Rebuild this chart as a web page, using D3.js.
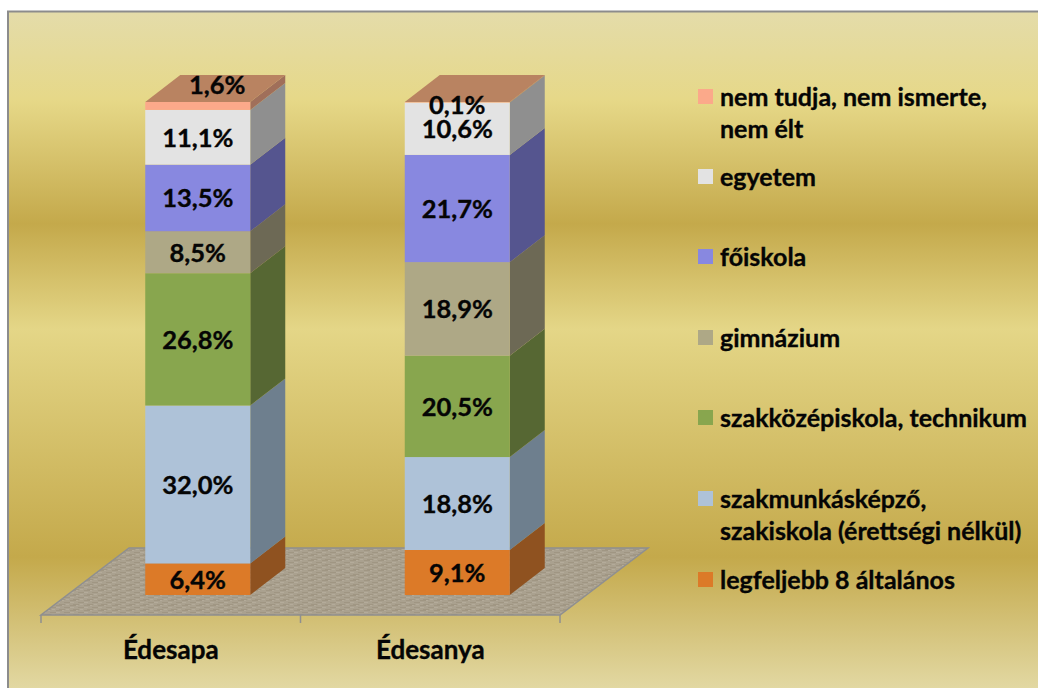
<!DOCTYPE html>
<html><head><meta charset="utf-8">
<script src="https://cdn.jsdelivr.net/npm/d3@7"></script>
<style>html,body{margin:0;padding:0;background:#fff}svg{display:block}text{font-family:Lato,Carlito,sans-serif;font-weight:700;fill:#050505;stroke:#050505;stroke-width:.35px}</style>
</head><body><svg id="c" width="1038" height="688"></svg>
<script>
const categories = ["Édesapa","Édesanya"];
const seriesNames = ["legfeljebb 8 általános","szakmunkásképző, szakiskola (érettségi nélkül)","szakközépiskola, technikum","gimnázium","főiskola","egyetem","nem tudja, nem ismerte, nem élt"];
const edesapa = [6.4,32.0,26.8,8.5,13.5,11.1,1.6];
const edesanya = [9.1,18.8,20.5,18.9,21.7,10.6,0.1];
const frontColors = ["#dc7a28","#aec2d8","#88a64e","#aea886","#8888e0","#e3e3e3","#fba98a"];
const sideColors = ["#8f5220","#6e7f8e","#566733","#6d6955","#55558f","#8f8f8f","#a06f5a"];
const legendLines = [["nem tudja, nem ismerte,","nem élt"],["egyetem"],["főiskola"],["gimnázium"],["szakközépiskola, technikum"],["szakmunkásképző,","szakiskola (érettségi nélkül)"],["legfeljebb 8 általános"]];
const legendY = [97,177,257,338,418,499,580];
const legendColors = ["#fba98a","#e3e3e3","#8888e0","#aea886","#88a64e","#aec2d8","#dc7a28"];
const gradientStops = [[11,"#e4dcaa"],[100,"#e6d888"],[224,"#c4a94b"],[329,"#e4d687"],[557,"#c4a94b"],[688,"#e2d8a2"]];

const svg = d3.select("#c");
const defs = svg.append("defs");
const g = defs.append("linearGradient").attr("id","bg").attr("gradientUnits","userSpaceOnUse").attr("x1",0).attr("x2",0).attr("y1",0).attr("y2",688);
gradientStops.forEach(d=>g.append("stop").attr("offset",d[0]/688).attr("stop-color",d[1]));
const p = defs.append("pattern").attr("id","floor").attr("width",14).attr("height",5).attr("patternUnits","userSpaceOnUse");
p.append("rect").attr("width",14).attr("height",5).attr("fill","#aaa18f");
p.append("path").attr("d","M0 .5H6M8 2.5H14M3 4.5H9").attr("stroke","#a09683").attr("stroke-width",1);
p.append("path").attr("d","M6 .5H8M0 2.5H4M10 4.5H13").attr("stroke","#b4ab9a").attr("stroke-width",1);

svg.append("rect").attr("x",8).attr("y",11.5).attr("width",1040).attr("height",690).attr("fill","url(#bg)").attr("stroke","#8c8c8c").attr("stroke-width",2);

const x = d3.scaleBand().domain(categories).range([41,560]);
const barW = 105, barShift = 27;
const y = d3.scaleLinear().domain([0,100]).range([595,102]);
const dx = 35, dy = -27;
const floorDepthX = 88, floorY0 = 615, floorY1 = 548;
svg.append("path").attr("d",`M${x.range()[0]} ${floorY0}H${x.range()[1]}L${x.range()[1]+floorDepthX} ${floorY1}H${x.range()[0]+floorDepthX}Z`)
  .attr("fill","url(#floor)").attr("stroke","#8f8f8f").attr("stroke-width",1.5);
const ticks=[41,x(categories[1]),560];
svg.selectAll("line.t").data(ticks).join("line").attr("x1",d=>d).attr("x2",d=>d).attr("y1",floorY0).attr("y2",623).attr("stroke","#8f8f8f").attr("stroke-width",1.5);

[edesapa,edesanya].forEach((vals,ci)=>{
  const cat = categories[ci];
  const x0 = x(cat)+x.bandwidth()/2-barW/2+barShift;
  const total = d3.sum(vals);
  let acc=0;
  const segs = vals.map((v,i)=>{const s={i,v,a:acc/total*100,b:(acc+v)/total*100};acc+=v;return s;});
  segs.forEach(s=>{
    const yb=y(s.a), yt=y(s.b);
    svg.append("path").attr("d",`M${x0+barW} ${yt}L${x0+barW+dx} ${yt+dy}V${yb+dy}L${x0+barW} ${yb}Z`).attr("fill",sideColors[s.i]);
    svg.append("rect").attr("x",x0).attr("y",yt).attr("width",barW).attr("height",yb-yt).attr("fill",frontColors[s.i]);
  });
  const top=segs[segs.length-1], yt=y(top.b);
  svg.append("path").attr("d",`M${x0} ${yt}L${x0+dx} ${yt+dy}H${x0+barW+dx}L${x0+barW} ${yt}Z`).attr("fill","#b98361");
  segs.forEach(s=>{
    let ly=(y(s.a)+y(s.b))/2;
    if(s.i===6) ly = ci===0 ? 85 : 105;
    svg.append("text").attr("x",ci===0&&s.i===6?x0+72:x0+barW/2).attr("y",ly+0.5).attr("dy","0.35em").attr("text-anchor","middle").attr("font-size",25.5).text(s.v.toFixed(1).replace(".",",")+"%");
  });
  svg.append("text").attr("x",x(cat)+x.bandwidth()/2).attr("y",650).attr("dy","0.35em").attr("text-anchor","middle").attr("font-size",26).text(cat);
});

legendLines.forEach((lines,i)=>{
  svg.append("rect").attr("x",698).attr("y",legendY[i]-8).attr("width",15).attr("height",15).attr("fill",legendColors[i]);
  lines.forEach((l,j)=>svg.append("text").attr("x",720).attr("y",legendY[i]+j*32).attr("dy","0.35em").attr("font-size",25).text(l));
});
</script></body></html>
